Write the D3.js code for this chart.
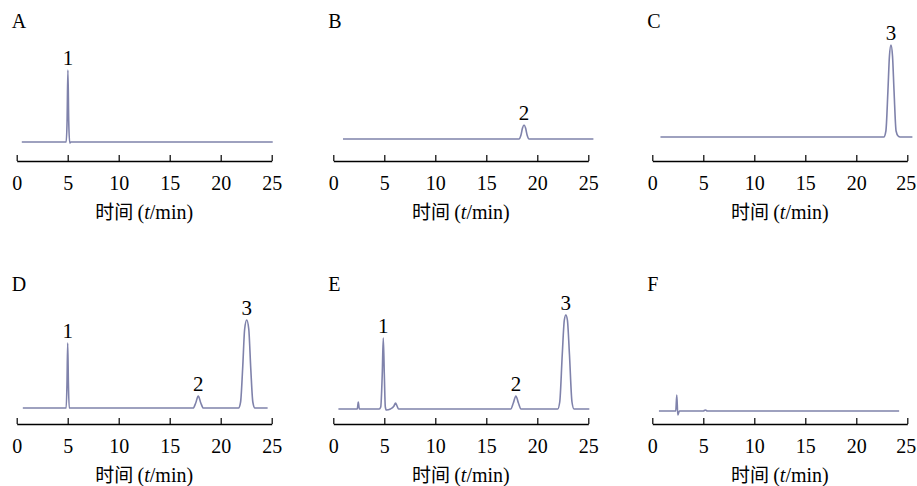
<!DOCTYPE html>
<html>
<head>
<meta charset="utf-8">
<script src="https://cdn.jsdelivr.net/npm/d3@7"></script>
<style>
  body { margin: 0; background: #fff; }
  text { font-family: "Liberation Serif", "Times New Roman", serif; fill: #000; }
</style>
</head>
<body>
<svg id="chart" width="917" height="486"></svg>
<script>
// time axis ticks (min)
var timeTicks = [0, 5, 10, 15, 20, 25];
var panelNames = ["A", "B", "C", "D", "E", "F"];

// chromatogram traces: [time (min), signal]
var traceA = [[0.5,19],[4.85,19],[4.94,40],[5.02,91],[5.1,40],[5.2,18],[5.3,19],[25.1,19]];
var traceB = [[0.95,22],[18.2,22],[18.4,26],[18.55,33],[18.7,36],[18.85,33],[19.0,26],[19.2,22],[25.5,22]];
var traceC = [[0.8,24],[22.7,24],[22.9,30],[23.1,70],[23.25,105],[23.4,116],[23.55,105],[23.7,70],[23.9,30],[24.1,25],[24.3,24],[25.5,24]];
var traceD = [[0.6,16],[4.85,16],[4.93,40],[5.0,81],[5.07,40],[5.15,16],[17.3,16],[17.55,21],[17.8,28],[18.05,21],[18.3,16],
              [21.75,16],[21.95,22],[22.15,55],[22.35,95],[22.55,104],[22.75,95],[22.95,55],[23.15,22],[23.35,16],[24.6,16]];
var traceE = [[0.5,15],[2.35,15],[2.45,22],[2.55,15],[4.5,15],[4.65,17],[4.8,50],[4.9,86],[5.0,50],[5.1,17],[5.2,14],[5.6,15],
              [5.95,18],[6.1,21],[6.25,18],[6.4,15],[17.4,15],[17.65,21],[17.9,28],[18.15,21],[18.4,15],
              [22.0,15],[22.2,22],[22.45,70],[22.65,104],[22.8,109],[22.95,104],[23.15,70],[23.4,22],[23.6,15],[25.1,15]];
var traceF = [[0.65,13],[2.3,13],[2.4,29],[2.5,9],[2.65,13],[5.0,13],[5.2,14],[5.4,13],[24.2,13]];

// peak numbers: [label, retention time]
var peaksA = [["1", 5.02]];
var peaksB = [["2", 18.7]];
var peaksC = [["3", 23.4]];
var peaksD = [["1", 5.0], ["2", 17.8], ["3", 22.55]];
var peaksE = [["1", 4.9], ["2", 17.9], ["3", 22.8]];
var peaksF = [];

var traces = [traceA, traceB, traceC, traceD, traceE, traceF];
var peaks = [peaksA, peaksB, peaksC, peaksD, peaksE, peaksF];

var svg = d3.select("#chart");
var colX = [16.7, 333.3, 652.3],
    rowY = [161, 424],
    axisW = 255,
    plotH = 130;

panelNames.forEach(function (name, i) {
    var left = colX[i % 3], axisY = rowY[Math.floor(i / 3)];

    var x = d3.scaleLinear().domain([0, 25]).range([left, left + axisW]);
    var y = d3.scaleLinear().domain([0, plotH]).range([axisY, axisY - plotH]);

    var g = svg.append("g");

    // panel letter
    g.append("text")
        .attr("x", left - 5)
        .attr("y", axisY - 133)
        .style("font-size", "20px")
        .text(name);

    // x axis with upward ticks
    var ax = g.append("g")
        .attr("transform", "translate(0," + axisY + ")")
        .call(d3.axisBottom(x).tickValues(timeTicks).tickSizeInner(-6).tickSizeOuter(0).tickPadding(15));
    ax.select(".domain").attr("stroke", "#000").attr("stroke-width", 1.4);
    ax.selectAll(".tick line").attr("stroke", "#000").attr("stroke-width", 1.2);
    ax.selectAll(".tick text")
        .style("font-family", "'Liberation Serif', 'Times New Roman', serif")
        .style("font-size", "20px");
    // keep the last label of the right column inside the page
    if (i % 3 == 2) {
        ax.selectAll(".tick text").filter(function (d) { return d == 25; }).attr("dx", -1.5);
    }

    // axis title
    var t = g.append("text")
        .attr("x", left + axisW / 2)
        .attr("y", axisY + 58)
        .attr("text-anchor", "middle")
        .style("font-size", "20px");
    t.append("tspan").style("font-family", "'Noto Sans CJK SC', sans-serif").style("font-size", "19px").text("时间 ");
    t.append("tspan").text("(");
    t.append("tspan").style("font-style", "italic").text("t");
    t.append("tspan").text("/min)");

    // trace
    var line = d3.line()
        .x(function (d) { return x(d[0]); })
        .y(function (d) { return y(d[1]); })
        .curve(d3.curveMonotoneX);

    g.append("path")
        .datum(traces[i])
        .attr("fill", "none")
        .attr("stroke", "#7f82ab")
        .attr("stroke-width", 1.6)
        .attr("stroke-linejoin", "round")
        .attr("d", line);

    // peak numbers just above peak apex
    peaks[i].forEach(function (p) {
        var top = d3.max(traces[i].filter(function (d) { return Math.abs(d[0] - p[1]) < 0.3; }), function (d) { return d[1]; });
        g.append("text")
            .attr("x", x(p[1]))
            .attr("y", y(top) - 5)
            .attr("text-anchor", "middle")
            .style("font-size", "21px")
            .text(p[0]);
    });
});
</script>
</body>
</html>
